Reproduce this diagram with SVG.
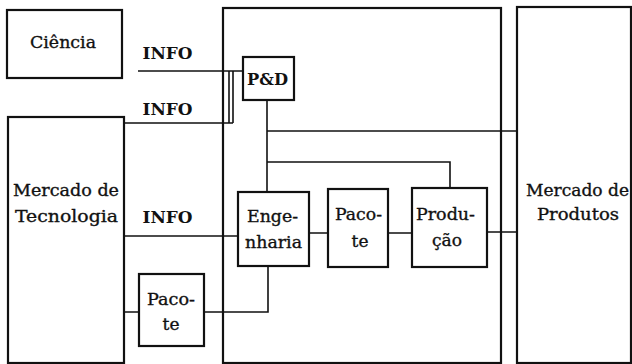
<svg xmlns="http://www.w3.org/2000/svg" width="632" height="364" viewBox="0 0 632 364">
<style>
.box{fill:none;stroke:#111;stroke-width:2.2}
.ln{fill:none;stroke:#111;stroke-width:1.6}
.t{font-family:"DejaVu Serif","Liberation Serif",serif;font-size:17px;fill:#111;stroke:#111;stroke-width:0.35;text-anchor:middle}
.b{font-weight:bold;stroke-width:0}
</style>
<rect width="632" height="364" fill="#fff"/>
<g id="connectors">
<path class="ln" d="M138 71H243"/>
<path class="ln" d="M124 123H233M229 71V123M233 71V123"/>
<path class="ln" d="M267 100V192"/>
<path class="ln" d="M267 131H518"/>
<path class="ln" d="M267 162H450V189"/>
<path class="ln" d="M124 236H238"/>
<path class="ln" d="M309 233H328M388 233H412M487 232H518"/>
<path class="ln" d="M124 312H139M204 312H268V266"/>
</g>
<g id="ciencia"><rect class="box" x="7" y="10" width="115" height="68"/><text class="t" x="63" y="48" textLength="66" lengthAdjust="spacingAndGlyphs">Ciência</text></g>
<g id="mercado-tecnologia"><rect class="box" x="8" y="117" width="116" height="246"/><text class="t" x="66" y="196" textLength="106" lengthAdjust="spacingAndGlyphs">Mercado de</text><text class="t" x="66.5" y="222" textLength="103" lengthAdjust="spacingAndGlyphs">Tecnologia</text></g>
<g id="empresa"><rect class="box" x="223" y="8" width="278" height="355"/></g>
<g id="mercado-produtos"><rect class="box" x="517" y="7" width="114" height="356"/><text class="t" x="577.5" y="196" textLength="103" lengthAdjust="spacingAndGlyphs">Mercado de</text><text class="t" x="578" y="220" textLength="82" lengthAdjust="spacingAndGlyphs">Produtos</text></g>
<g id="info-labels"><text class="t b" x="167.5" y="59" textLength="50" lengthAdjust="spacingAndGlyphs">INFO</text><text class="t b" x="167.5" y="115" textLength="50" lengthAdjust="spacingAndGlyphs">INFO</text><text class="t b" x="167.5" y="223" textLength="50" lengthAdjust="spacingAndGlyphs">INFO</text></g>
<g id="pd"><rect class="box" x="243" y="57" width="51" height="43"/><text class="t b" x="267.5" y="85" textLength="41" lengthAdjust="spacingAndGlyphs">P&amp;D</text></g>
<g id="engenharia"><rect class="box" x="238" y="192" width="71" height="74"/><text class="t" x="272.5" y="222" textLength="51" lengthAdjust="spacingAndGlyphs">Enge-</text><text class="t" x="273.5" y="248" textLength="57" lengthAdjust="spacingAndGlyphs">nharia</text></g>
<g id="pacote"><rect class="box" x="328" y="189" width="60" height="78"/><text class="t" x="358.5" y="220" textLength="47" lengthAdjust="spacingAndGlyphs">Paco-</text><text class="t" x="360" y="247">te</text></g>
<g id="producao"><rect class="box" x="412" y="188" width="75" height="79"/><text class="t" x="445.5" y="220" textLength="59" lengthAdjust="spacingAndGlyphs">Produ-</text><text class="t" x="447" y="246" textLength="30" lengthAdjust="spacingAndGlyphs">ção</text></g>
<g id="pacote-externo"><rect class="box" x="139" y="274" width="65" height="72"/><text class="t" x="171" y="305" textLength="48" lengthAdjust="spacingAndGlyphs">Paco-</text><text class="t" x="171" y="330">te</text></g>
</svg>
